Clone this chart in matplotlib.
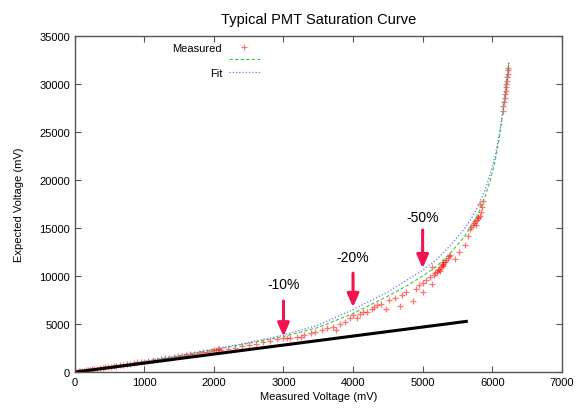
import numpy as np
import matplotlib.pyplot as plt

plt.rcParams['font.family'] = ['Liberation Sans', 'DejaVu Sans']

# Measured points (mV)
meas_x = [20, 40, 60, 80, 100, 130, 160, 190, 220, 250, 280, 320, 360, 400, 440, 480, 520, 560,
          600, 650, 700, 750, 800, 850, 900, 950, 1000, 1060, 1120, 1180, 1240, 1300, 1360, 1420,
          1480, 1540, 1600, 1660, 1720, 1780, 1840, 1900, 1960, 2000, 2030, 2060, 2080, 2100,
          2200, 2300, 2400, 2500, 2600, 2700, 2800, 2900, 3000, 3050, 3100, 3200, 3250, 3300,
          3400, 3450,
          3560, 3620, 3710, 3760, 3810, 3880, 3950, 4000, 4050, 4100, 4140, 4200, 4270, 4300,
          4340, 4400, 4480, 4520, 4600, 4670, 4700, 4760, 4860, 4900, 4950, 5000, 5000, 5050,
          5100, 5140,
          5160, 5180, 5200, 5220, 5240, 5260, 5280, 5290, 5300, 5320, 5340, 5360, 5380, 5400,
          5250, 5300, 5140, 5460, 5530, 5610, 5650,
          5680, 5700, 5720, 5740, 5760, 5780, 5800, 5820, 5840, 5860, 5750, 5790, 5830, 5870,
          6150, 6160, 6170, 6180, 6190, 6195, 6200, 6205, 6210, 6215, 6220, 6225, 6230]
meas_y = [30, 50, 70, 90, 110, 140, 170, 210, 240, 280, 300, 350, 400, 440, 480, 530, 570, 620,
          660, 720, 770, 830, 880, 940, 1000, 1050, 1100, 1170, 1240, 1300, 1380, 1440, 1500, 1580,
          1650, 1710, 1780, 1850, 1920, 1980, 2060, 2120, 2200, 2250, 2350, 2450, 2400, 2300,
          2450, 2500, 2700, 2850, 2950, 3100, 3250, 3400, 3500, 3600, 3550, 3700, 3650, 3900,
          4050, 4200,
          4400, 4600, 4700, 4400, 5000, 5200, 5600, 5900, 5600, 6100, 6250, 6300, 6550, 6800,
          6950, 7100, 6560, 7500, 7700, 6880, 8000, 8300, 7400, 8700, 9100, 9300, 8330, 9600,
          9900, 9170,
          10100, 10300, 10400, 10600, 10700, 10900, 11100, 11460, 11300, 11500, 11700, 11900, 12100, 12200,
          10500, 11000, 10940, 11770, 12500, 13230, 14170,
          14900, 15100, 15300, 15500, 15300, 15800, 16000, 16300, 16700, 17200, 15700, 16100, 17500, 17800,
          27200, 27700, 28100, 28500, 28900, 29300, 29700, 30000, 30300, 30700, 31000, 31400, 31700]

# Fit curves
fit_x = [0, 500, 1000, 1500, 2000, 2500, 3000, 3500, 4000, 4500, 4800, 5000, 5200, 5400, 5600,
         5700, 5800, 5900, 6000, 6050, 6100, 6150, 6200, 6240]
fit1_y = [0, 540, 1100, 1700, 2330, 3000, 3700, 4650, 6100, 7900, 9100, 10000, 11000, 12400,
          14100, 15200, 16500, 18300, 20700, 22300, 24300, 26800, 29800, 32200]
fit2_y = [0, 550, 1120, 1730, 2380, 3080, 3850, 4900, 6500, 8350, 9700, 10600, 11700, 13200,
          14900, 16000, 17300, 19000, 21300, 22800, 24700, 27100, 30000, 32300]

# Linear response
lin_x = [0, 5650]
lin_y = [0, 5300]

# Arrow annotations: label, x, text y, arrow start y, arrow tip y
arrow_lbl = ['-10%', '-20%', '-50%']
arrow_x = [3000, 4000, 5000]
arrow_txt_y = [9200, 12000, 16100]
arrow_top = [7400, 10300, 14800]
arrow_tip = [3700, 6750, 10800]

fig = plt.figure(figsize=(5.75, 4.1), dpi=100)
ax = fig.add_axes([0.130, 0.090, 0.847, 0.820])

h_meas, = ax.plot(meas_x, meas_y, linestyle='none', marker='+', color='red',
                  ms=5, mew=0.9, alpha=0.55)
h_fit1, = ax.plot(fit_x, fit1_y, color='#33cc33', lw=0.8, dashes=(3, 2))
h_fit2, = ax.plot(fit_x, fit2_y, color='#7070ff', lw=0.9, dashes=(1, 1.6))
ax.plot(lin_x, lin_y, color='black', lw=2.2, solid_capstyle='butt')

for lbl, x, ty, y0, y1 in zip(arrow_lbl, arrow_x, arrow_txt_y, arrow_top, arrow_tip):
    ax.annotate('', xy=(x, y1), xytext=(x, y0),
                arrowprops=dict(arrowstyle='-|>,head_length=0.8,head_width=0.35',
                                color='#f01550', lw=2.2, shrinkA=0, shrinkB=0))
    ax.text(x, ty, lbl, ha='center', va='center', fontsize=10)

ax.set_xlim(0, 7000)
ax.set_ylim(0, 35000)
ax.set_xticks(range(0, 7001, 1000))
ax.set_yticks(range(0, 35001, 5000))
ax.tick_params(direction='in', length=4, width=0.8, top=True, right=True,
               labelsize=8, color='#555555')
for s in ax.spines.values():
    s.set_color('#555555')
    s.set_linewidth(1.0)

ax.set_xlabel('Measured Voltage (mV)', fontsize=8, labelpad=3)
ax.set_ylabel('Expected Voltage (mV)', fontsize=8, labelpad=11)
ax.set_title('Typical PMT Saturation Curve', fontsize=10.5, pad=9)

ax.legend([h_meas, h_fit1, h_fit2], ['Measured', '', 'Fit'], loc='upper left',
          bbox_to_anchor=(0.18, 1.01), frameon=False, markerfirst=False, fontsize=8,
          handlelength=2.8, labelspacing=0.25, handletextpad=0.6)

fig.savefig('out.png', dpi=100)
